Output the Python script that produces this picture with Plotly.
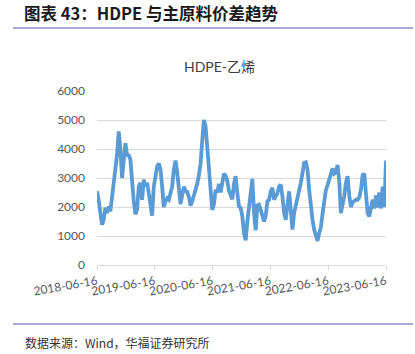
import pandas as pd
import plotly.graph_objects as go

# ---- data ----
start_date = "2018-06-16"
end_date = "2023-06-16"
spread_part1 = [
    2540, 2250, 1790, 1390, 1560, 1970, 1790, 2020, 1850, 2310,
    2710, 3290, 3800, 4610, 4000, 3000, 3520, 4200, 3800, 3780,
    3630, 2800, 2200, 1750, 1910, 2710, 2830, 2250, 2940, 2710,
    2830, 2480, 2140, 1700, 2700, 3100, 3400, 3500, 3300, 2700,
    2000, 2200, 2300, 2250, 2450, 2700, 3300, 3600, 3200, 2600,
    2100, 2400, 2700, 2550, 2520, 2350, 2050, 2200, 2400, 2500,
    2800, 3100, 3500, 4300, 5000, 4780, 4200, 3350, 2600, 1900,
    2100, 2600, 2500, 2800, 2500, 2900, 3150, 3080, 2900, 2550,
    2400, 2270, 2800, 3060, 2480, 2020,
]
spread_part2 = [
    1970, 1680, 1100, 850, 1500, 2050, 2600, 2970, 1790, 1200,
    2050, 2080, 1900, 1720, 1500, 1700, 2200, 2250, 2540, 2660,
    2250, 2370, 2480, 2710, 2770, 2370, 1790, 1560, 2020, 2540,
    1910, 1220, 1790, 2020, 2370, 2600, 2830, 3170, 3520, 3540,
    3290, 2600, 1910, 1560, 1220, 990, 830, 1100, 1300, 1750,
    2200, 2580, 2750, 2950, 3200, 3330, 3150, 3200, 3450, 2900,
    1790, 2020, 2370, 2830, 3060, 2400, 2000, 2160, 2220, 2250,
    2250, 2330, 2600, 3100, 3150, 2370, 1790, 1680, 1910, 2250,
    1950, 2400, 1980, 2500, 1950, 2700, 2000, 3600,
]
spread = spread_part1 + spread_part2
dates = pd.date_range(start_date, end_date, periods=len(spread))

tick_dates = ["2018-06-16", "2019-06-16", "2020-06-16",
              "2021-06-16", "2022-06-16", "2023-06-16"]
y_ticks = [0, 1000, 2000, 3000, 4000, 5000, 6000]

header = "图表 43：HDPE 与主原料价差趋势"
chart_title = "HDPE-乙烯"
source = "数据来源：Wind，华福证券研究所"

# ---- figure ----
W, H = 415, 354
L, R, T, B = 97, 29, 91, 89
pw, ph = W - L - R, H - T - B

def px(x):
    return (x - L) / pw

def py(y):
    return (H - B - y) / ph

fig = go.Figure()
fig.add_trace(go.Scatter(
    x=dates, y=spread, mode="lines",
    line=dict(color="#5B9BD5", width=3.8),
    hoverinfo="skip", showlegend=False,
))

tick_font = dict(family="Lato, 'Open Sans', sans-serif", size=12, color="#595959")
fig.update_layout(
    width=W, height=H,
    margin=dict(l=L, r=R, t=T, b=B, pad=0),
    paper_bgcolor="white", plot_bgcolor="white",
    xaxis=dict(
        range=[pd.Timestamp(start_date), pd.Timestamp(end_date)],
        tickvals=tick_dates, ticktext=tick_dates, tickangle=-10,
        tickfont=tick_font, showgrid=False, zeroline=False,
        showline=True, linecolor="#D9D9D9", linewidth=1,
        ticks="outside", ticklen=4, tickcolor="#D9D9D9",
    ),
    yaxis=dict(
        range=[0, 6000], tickvals=y_ticks, tickfont=tick_font,
        showgrid=True, gridcolor="#D9D9D9", gridwidth=1,
        zeroline=False, showline=False, ticks="", ticklabelstandoff=11,
    ),
)

fig.add_annotation(
    text=f"<b>{header}</b>", xref="paper", yref="paper",
    x=px(22), y=py(13), xanchor="left", yanchor="middle", showarrow=False,
    font=dict(family="Noto Sans CJK SC", size=16.5, color="#1a1a1a"),
)
fig.add_annotation(
    text=chart_title, xref="paper", yref="paper",
    x=px(219), y=py(67), xanchor="center", yanchor="middle", showarrow=False,
    font=dict(family="Lato, 'Noto Sans CJK SC'", size=14, color="#404040"),
)
fig.add_annotation(
    text=source, xref="paper", yref="paper",
    x=px(23), y=py(342), xanchor="left", yanchor="middle", showarrow=False,
    font=dict(family="Noto Sans CJK SC", size=12, color="#333333"),
)
for yy in (28, 324):
    fig.add_shape(type="line", xref="paper", yref="paper",
                  x0=px(13), x1=px(413), y0=py(yy), y1=py(yy),
                  line=dict(color="#8C8CC8", width=1.5))

fig.write_html("out.html")
